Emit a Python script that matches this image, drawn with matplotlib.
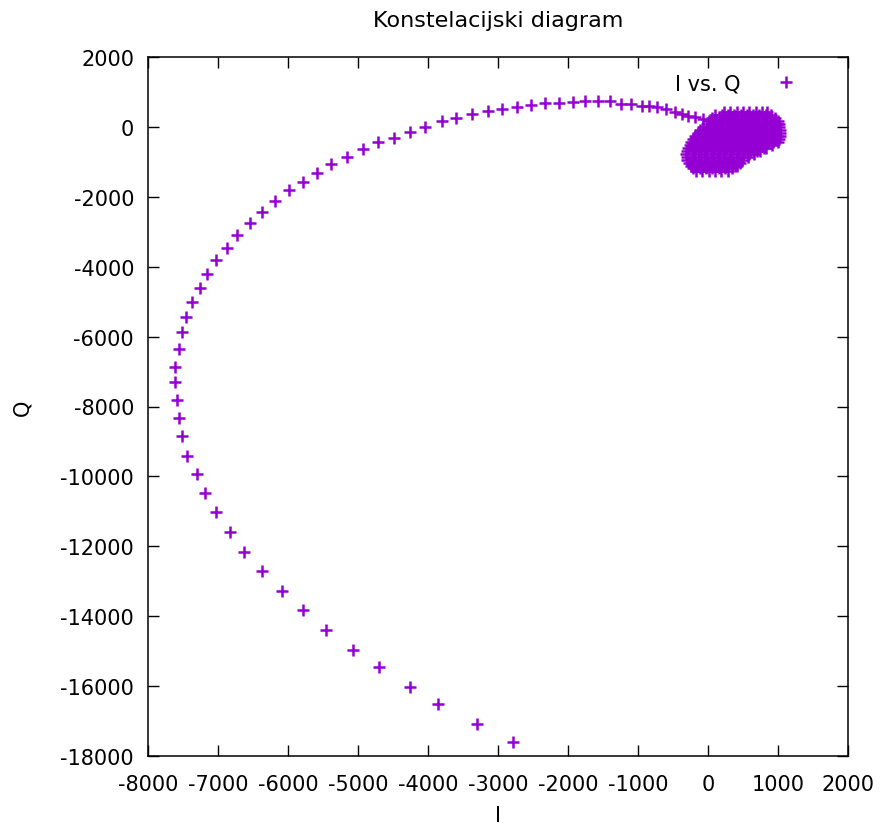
import numpy as np
import matplotlib
matplotlib.use("Agg")
import matplotlib.pyplot as plt

plt.rcParams['font.family'] = ['DejaVu Sans']
plt.rcParams['axes.unicode_minus'] = False

# trail of samples (I, Q), from the far end towards the cluster
trail_i = [-2786, -3300, -3857, -4257, -4696, -5071, -5453, -5790, -6090, -6367,
           -6624, -6829, -7029, -7181, -7304, -7439, -7514, -7561, -7590, -7619,
           -7619, -7561, -7514, -7464, -7367, -7257, -7157, -7029, -6876, -6724,
           -6547, -6367, -6190, -5990, -5781, -5581, -5381, -5153, -4924, -4719,
           -4486, -4257, -4039, -3804, -3600, -3371, -3139, -2947, -2733, -2533,
           -2329, -2124, -1924, -1757, -1576, -1400, -1243, -1104, -947, -839,
           -724, -600, -471, -371, -281, -186, -76]
trail_q = [-17595, -17080, -16508, -16022, -15458, -14954, -14391, -13827, -13275, -12711,
           -12151, -11587, -11024, -10463, -9919, -9404, -8849, -8334, -7819, -7304,
           -6875, -6360, -5865, -5445, -5015, -4615, -4214, -3814, -3453, -3081,
           -2755, -2440, -2126, -1811, -1565, -1316, -1067, -858, -638, -438,
           -306, -143, 9, 172, 257, 372, 466, 515, 581, 638,
           687, 687, 724, 735, 735, 735, 658, 658, 609, 609,
           564, 515, 438, 372, 323, 278, 229]

# dense cluster near the origin, estimated row by row (Q of the row, I values in it)
cluster_q = [430, 345, 260, 175, 90, 0, -90, -175, -260, -345, -430, -515,
             -600, -685, -770, -855, -940, -1025, -1110, -1185, -1260]
cluster_i = [
    [230, 320, 410, 500, 590, 680, 770, 840],
    [105, 195, 285, 375, 465, 555, 645, 735, 825, 900],
    [60, 150, 240, 330, 420, 510, 600, 690, 780, 870, 950],
    [15, 105, 195, 285, 375, 465, 555, 645, 735, 825, 915, 995],
    [-10, 80, 170, 260, 350, 440, 530, 620, 710, 800, 890, 980, 1010],
    [-65, 25, 115, 205, 295, 385, 475, 565, 655, 745, 835, 925, 1020],
    [-110, -20, 70, 160, 250, 340, 430, 520, 610, 700, 790, 880, 970, 1030],
    [-145, -55, 35, 125, 215, 305, 395, 485, 575, 665, 755, 845, 935, 1025],
    [-180, -90, 0, 90, 180, 270, 360, 450, 540, 630, 720, 810, 900, 990, 1030],
    [-210, -120, -30, 60, 150, 240, 330, 420, 510, 600, 690, 780, 870, 960, 1015],
    [-240, -150, -60, 30, 120, 210, 300, 390, 480, 570, 660, 750, 840, 930, 1000],
    [-260, -170, -80, 10, 100, 190, 280, 370, 460, 550, 640, 730, 820, 910],
    [-280, -190, -100, -10, 80, 170, 260, 350, 440, 530, 620, 710, 800, 830],
    [-295, -205, -115, -25, 65, 155, 245, 335, 425, 515, 605, 695, 745],
    [-310, -220, -130, -40, 50, 140, 230, 320, 410, 500, 590, 660],
    [-305, -215, -125, -35, 55, 145, 235, 325, 415, 505, 575],
    [-300, -210, -120, -30, 60, 150, 240, 330, 420, 490],
    [-275, -185, -95, -5, 85, 175, 265, 355, 450],
    [-250, -160, -70, 20, 110, 200, 290, 380, 410],
    [-210, -120, -30, 60, 150, 240, 345],
    [-170, -80, 10, 100, 190, 280],
]

xticks = list(range(-8000, 2001, 1000))
yticks = list(range(-18000, 2001, 2000))

I = list(trail_i)
Q = list(trail_q)
for q, row in zip(cluster_q, cluster_i):
    I += row
    Q += [q] * len(row)

fig = plt.figure(figsize=(8.83, 8.29), dpi=100)
ax = fig.add_axes([148/883, 1 - 757/829, 700/883, 699/829])

ax.plot(I, Q, linestyle='none', marker='+', ms=8.5, mew=1.8, color='#9400d3', label='I vs. Q')

ax.set_xlim(-8000, 2000)
ax.set_ylim(-18000, 2000)
ax.set_xticks(xticks)
ax.set_yticks(yticks)
ax.tick_params(direction='in', length=8, width=1, top=True, right=True, labelsize=15)
ax.tick_params(axis='x', pad=13)
ax.tick_params(axis='y', pad=10)
for s in ax.spines.values():
    s.set_linewidth(1.1)

ax.set_title('Konstelacijski diagram', fontsize=16, pad=22)
ax.set_xlabel('I', fontsize=15, labelpad=8)
ax.set_ylabel('Q', fontsize=15, labelpad=20)

ax.legend(loc='upper right', bbox_to_anchor=(0.953, 0.988), borderaxespad=0, frameon=False,
          markerfirst=False, handlelength=2, handletextpad=1.2, fontsize=15)

fig.savefig('out.png', dpi=100)
